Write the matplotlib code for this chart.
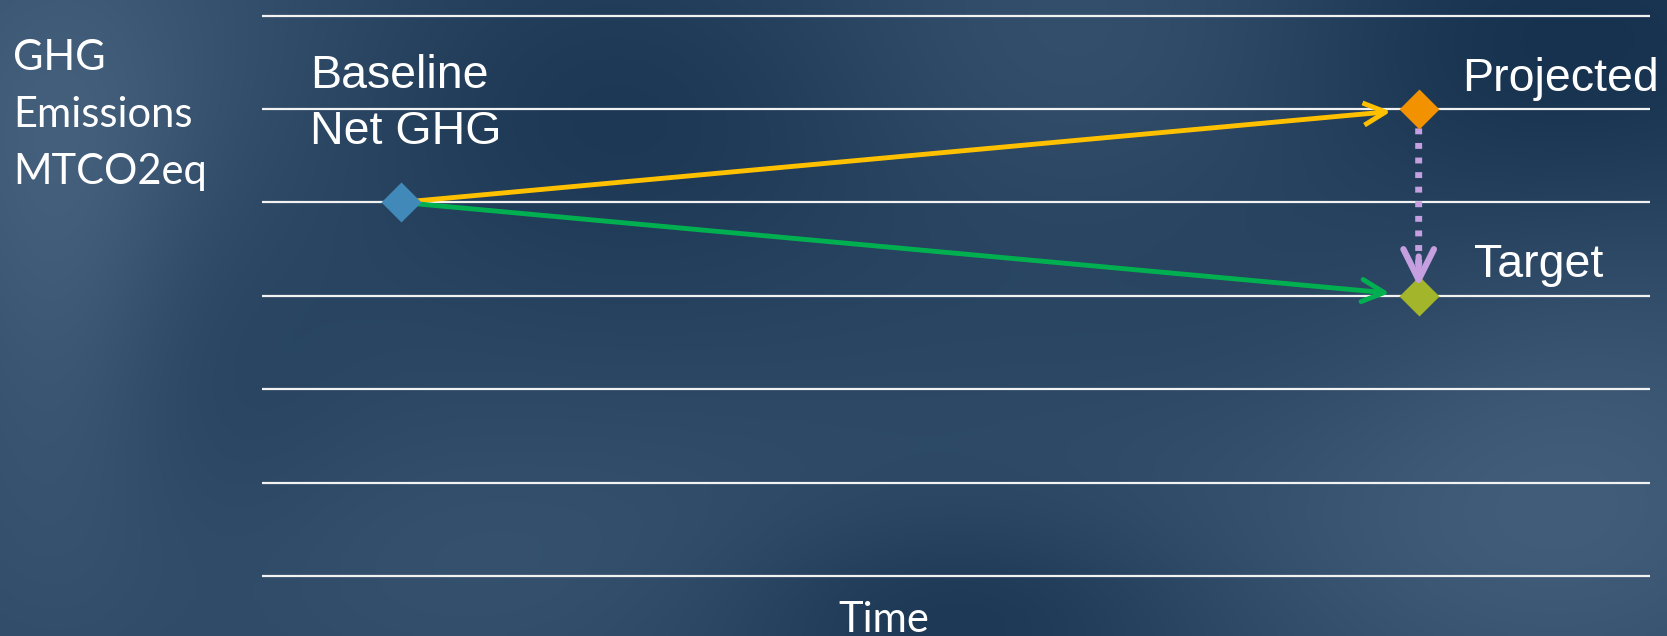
import numpy as np
import matplotlib
matplotlib.use("Agg")
import matplotlib.pyplot as plt

# values (y = emission level, x = time position)
levels = [0, 1, 2, 3, 4, 5, 6]
point_names = ["Baseline\nNet GHG", "Projected", "Target"]
point_x = [1.5, 12.5, 12.5]
point_y = [4, 5, 3]
point_colors = ["#4189B8", "#F39200", "#A3B52B"]
y_label = "GHG\nEmissions\nMTCO2eq"
x_label = "Time"

W, H = 1667, 636
fig = plt.figure(figsize=(W / 100, H / 100), dpi=100)

# textured dark blue backdrop
bg = fig.add_axes([0, 0, 1, 1], zorder=0)
yy, xx = np.mgrid[0:H:4, 0:W:4]
base = np.array([0.165, 0.275, 0.385])
img = np.ones(xx.shape + (3,)) * base
blobs = [  # x, y, sx, sy, strength
    (80, 60, 220, 160, 0.06),
    (60, 290, 90, 200, 0.07),
    (250, 560, 300, 120, 0.03),
    (1100, 40, 220, 120, 0.05),
    (1580, 470, 200, 180, 0.09),
    (1250, 520, 250, 120, 0.04),
    (700, 560, 250, 100, 0.03),
    (1560, 40, 220, 120, -0.08),
    (950, 610, 180, 80, -0.08),
    (620, 110, 220, 130, -0.06),
    (180, 420, 120, 160, -0.03),
    (1400, 330, 260, 200, -0.03),
]
for bx, by, sx, sy, s in blobs:
    g = np.exp(-((xx - bx) ** 2 / (2 * sx ** 2) + (yy - by) ** 2 / (2 * sy ** 2)))
    img += s * g[..., None] * np.array([1.0, 1.0, 1.0])
img = np.clip(img, 0, 1)
bg.imshow(img, extent=[0, W, H, 0], aspect="auto", interpolation="bicubic")
bg.set_xlim(0, W)
bg.set_ylim(H, 0)
bg.axis("off")

# main axes
ax = fig.add_axes([262 / W, 1 - 585.3 / H, (1650 - 262) / W, (585.3 - 6.2) / H], zorder=1)
ax.patch.set_visible(False)
ax.set_xlim(0, 15)
ax.set_ylim(-0.1, 6.1)
for lv in levels:
    ax.axhline(lv, color="#f2f2f2", lw=1.6, zorder=1)
for sp in ax.spines.values():
    sp.set_visible(False)
ax.set_xticks([])
ax.set_yticks([])

bx, px, tx = point_x
by, py, ty = point_y

# arrows baseline -> projected / target
ax.annotate("", xy=(px, py), xytext=(bx, by),
            arrowprops=dict(arrowstyle="->,head_length=1.6,head_width=0.8",
                            color="#FFC000", lw=3.5, shrinkA=9, shrinkB=20,
                            mutation_scale=10, capstyle="butt"), zorder=3)
ax.annotate("", xy=(tx, ty), xytext=(bx, by),
            arrowprops=dict(arrowstyle="->,head_length=1.6,head_width=0.8",
                            color="#00B050", lw=3.5, shrinkA=9, shrinkB=21,
                            mutation_scale=10), zorder=3)

# dotted drop projected -> target
ax.annotate("", xy=(tx, ty), xytext=(px, py),
            arrowprops=dict(arrowstyle="-", color="#C59FDF", lw=5,
                            linestyle=(0, (0.85, 1.25)), shrinkA=14, shrinkB=16,
                            capstyle="butt"), zorder=3)
ax.annotate("", xy=(tx, ty), xytext=(px, ty + 0.42),
            arrowprops=dict(arrowstyle="->,head_length=2.2,head_width=1.1",
                            color="#C59FDF", lw=4.5, shrinkA=0, shrinkB=6.5,
                            mutation_scale=10), zorder=5)

for x, y, c in zip(point_x, point_y, point_colors):
    ax.plot(x, y, marker="D", ms=20.5, color=c, mec="none", zorder=4, clip_on=False)

# point labels (va=baseline -> baseline of last line)
lab = dict(color="white", fontsize=33.5, family="Liberation Sans", zorder=6)
ax.text(0.52, 4.62, point_names[0], ha="left", va="baseline", linespacing=1.37, **lab)
ax.text(12.97, 5.19, point_names[1], ha="left", va="baseline", **lab)
ax.text(13.1, 3.2, point_names[2], ha="left", va="baseline", **lab)

fig.text(13 / W, 1 - 184 / H, y_label, color="white", fontsize=30, family="Lato",
         ha="left", va="baseline", linespacing=1.62)
fig.text(884 / W, 1 - 632 / H, x_label, color="white", fontsize=30, family="Lato",
         ha="center", va="baseline")

fig.savefig("out.png", dpi=100)
